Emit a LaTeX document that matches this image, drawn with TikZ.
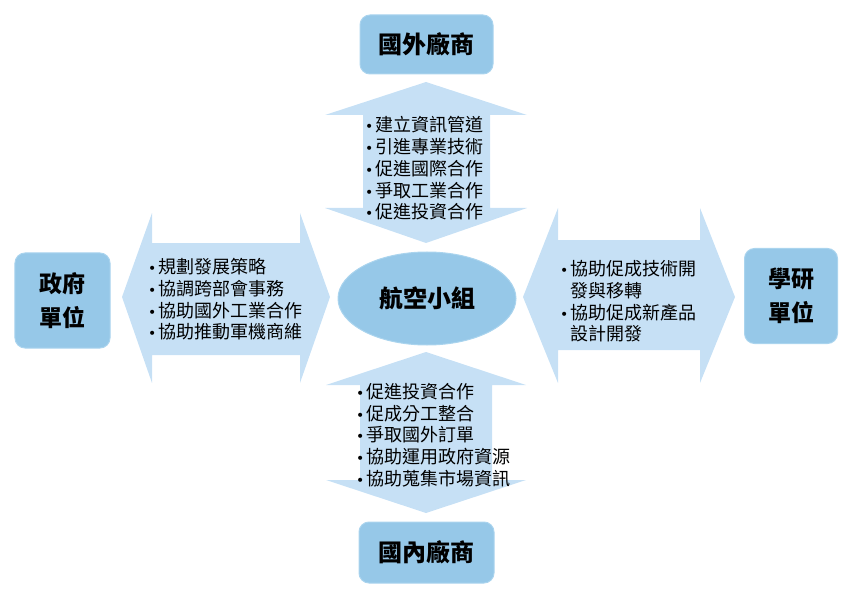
\documentclass[tikz,border=0pt]{standalone}
\usepackage{fontspec}
\setmainfont{Noto Sans CJK TC}
\newfontfamily\dejavu{DejaVu Sans}
\usetikzlibrary{shapes.geometric}
\definecolor{boxblue}{RGB}{150,200,232}
\definecolor{boxedge}{RGB}{170,212,238}
\definecolor{arrowblue}{RGB}{198,224,245}
\newcommand{\bu}{\makebox[10bp][l]{\dejavu\fontsize{14bp}{14bp}\selectfont •}}
\newcommand{\ind}{\hspace*{10bp}}
\tikzset{
  unitbox/.style={draw=boxedge, line width=1bp, fill=boxblue, rounded corners=10bp, inner sep=0pt, align=center, text=black},
  arrowshape/.style={fill=arrowblue, draw=none},
  listtext/.style={inner sep=0pt, align=left, font=\fontsize{18bp}{21.75bp}\selectfont, text=black},
  boxfont/.style={font=\fontsize{24bp}{34bp}\selectfont\bfseries}
}
\begin{document}
\begin{tikzpicture}[x=1bp, y=-1bp]
\useasboundingbox (0,0) rectangle (857,597);
% arrows
\fill[arrowshape] (426,82) -- (325,115) -- (363,115) -- (363,208) -- (325,208) -- (426,243) -- (527,208) -- (490,208) -- (490,115) -- (527,115) -- cycle;
\fill[arrowshape] (426,352) -- (326,385) -- (360,385) -- (360,480) -- (326,480) -- (426,513) -- (526,480) -- (492,480) -- (492,385) -- (526,385) -- cycle;
\fill[arrowshape] (122,297) -- (152,213) -- (152,243) -- (300,243) -- (300,213) -- (330,297) -- (300,383) -- (300,355) -- (152,355) -- (152,383) -- cycle;
\fill[arrowshape] (523,297) -- (558,208) -- (558,240) -- (700,240) -- (700,208) -- (735,297) -- (700,383) -- (700,350) -- (558,350) -- (558,383) -- cycle;
% boxes
\node[unitbox, boxfont, minimum width=133bp, minimum height=59bp] (foreign) at (426.5,44.5) {國外廠商};
\node[unitbox, boxfont, minimum width=135bp, minimum height=61bp] (domestic) at (426.5,552.5) {國內廠商};
\node[unitbox, font=\fontsize{23bp}{34bp}\selectfont\bfseries, minimum width=95bp, minimum height=95bp] (gov) at (62.5,300.5) {政府\\單位};
\node[unitbox, font=\fontsize{23bp}{34bp}\selectfont\bfseries, minimum width=93bp, minimum height=95bp] (acad) at (791,296) {學研\\單位};
\node[ellipse, draw=boxedge, line width=1bp, fill=boxblue, boxfont, minimum width=178bp, minimum height=93bp, inner sep=0pt] (center) at (427,298.5) {航空小組};
% texts
\node[listtext] (toptext) at (424,168.5) {\bu 建立資訊管道\\\bu 引進專業技術\\\bu 促進國際合作\\\bu 爭取工業合作\\\bu 促進投資合作};
\node[listtext] (lefttext) at (225,299.5) {\bu 規劃發展策略\\\bu 協調跨部會事務\\\bu 協助國外工業合作\\\bu 協助推動軍機商維};
\node[listtext] (righttext) at (628,301.5) {\bu 協助促成技術開\\\ind 發與移轉\\\bu 協助促成新產品\\\ind 設計開發};
\node[listtext] (bottomtext) at (433,435) {\bu 促進投資合作\\\bu 促成分工整合\\\bu 爭取國外訂單\\\bu 協助運用政府資源\\\bu 協助蒐集市場資訊};
\end{tikzpicture}
\end{document}
